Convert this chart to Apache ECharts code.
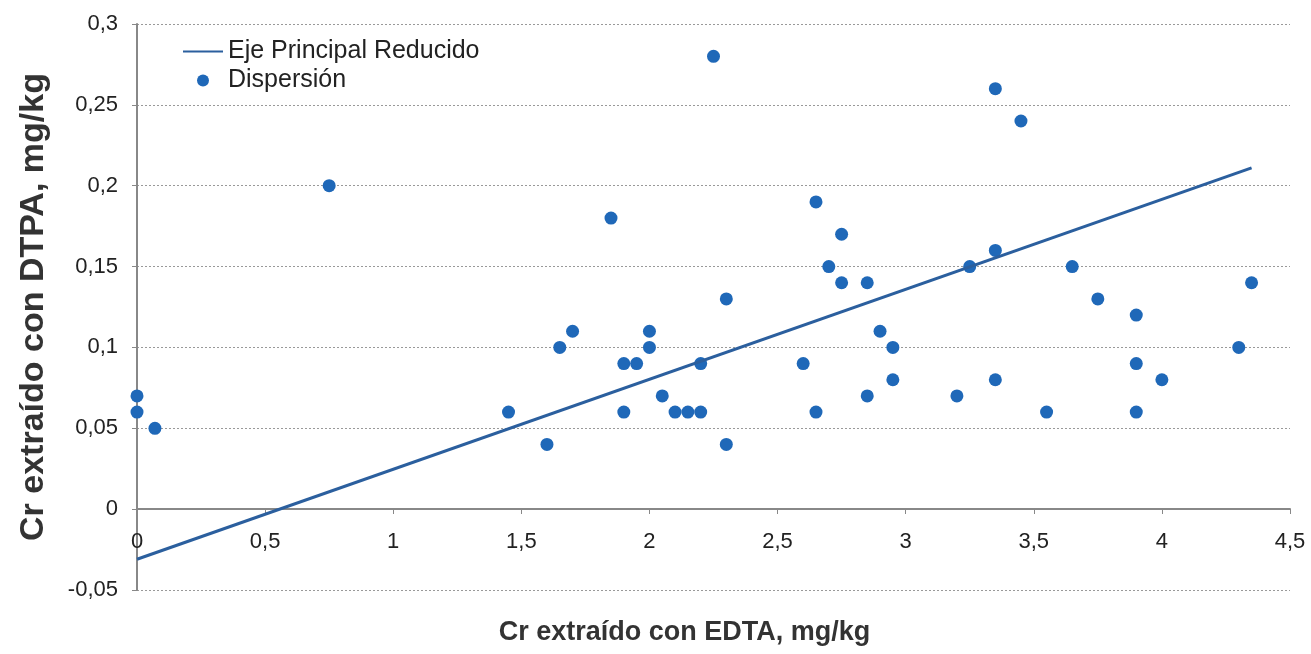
<!DOCTYPE html>
<html>
<head>
<meta charset="utf-8">
<script src="https://cdn.jsdelivr.net/npm/echarts@6/dist/echarts.min.js"></script>
<style>html,body{margin:0;padding:0;background:#fff;}#c{width:1311px;height:654px;}</style>
</head>
<body>
<div id="c"></div>
<script>
// Dispersión: [Cr EDTA, Cr DTPA] (mg/kg)
const edta = [0, 0, 0.07, 0.75, 1.45, 1.6, 1.65, 1.7, 1.85, 1.9, 1.95, 1.9, 2.0, 2.0, 2.05, 2.1, 2.15, 2.2, 2.2, 2.25, 2.3, 2.3, 2.6, 2.65, 2.65, 2.7, 2.75, 2.75, 2.85, 2.85, 2.9, 2.95, 2.95, 3.2, 3.25, 3.35, 3.35, 3.35, 3.45, 3.55, 3.65, 3.75, 3.9, 3.9, 3.9, 4.0, 4.3, 4.35];
const dtpa = [0.07, 0.06, 0.05, 0.2, 0.06, 0.04, 0.1, 0.11, 0.18, 0.09, 0.09, 0.06, 0.11, 0.1, 0.07, 0.06, 0.06, 0.06, 0.09, 0.28, 0.13, 0.04, 0.09, 0.19, 0.06, 0.15, 0.17, 0.14, 0.14, 0.07, 0.11, 0.1, 0.08, 0.07, 0.15, 0.26, 0.16, 0.08, 0.24, 0.06, 0.15, 0.13, 0.12, 0.09, 0.06, 0.08, 0.1, 0.14];
// Eje Principal Reducido (end points)
const ejeX = [0, 4.35];
const ejeY = [-0.031, 0.211];
const xTicks = {min: 0, max: 4.5, interval: 0.5};
const yTicks = {min: -0.05, max: 0.3, interval: 0.05};

const fmt = v => String(Math.round(v * 100) / 100).replace('.', ',');
const chart = echarts.init(document.getElementById('c'));
chart.setOption({
  animation: false,
  backgroundColor: '#fff',
  textStyle: {fontFamily: 'Liberation Sans, Arial, sans-serif'},
  grid: {left: 137, right: 21, top: 24, bottom: 64, containLabel: false, outerBoundsMode: 'none'},
  legend: {
    orient: 'vertical', left: 177, top: 34,
    itemWidth: 40, itemHeight: 12, itemGap: 4,
    textStyle: {fontSize: 25, color: '#222', fontFamily: 'Liberation Sans, Arial, sans-serif'},
    data: [{name: 'Eje Principal Reducido', itemStyle: {opacity: 0}}, 'Dispersión']
  },
  xAxis: {
    type: 'value', min: xTicks.min, max: xTicks.max, interval: xTicks.interval,
    position: 'bottom', offset: -81,
    name: 'Cr extraído con EDTA, mg/kg', nameLocation: 'middle', nameGap: 110,
    nameTextStyle: {fontSize: 27, fontWeight: 'bold', color: '#333', padding: [0, 58, 0, 0]},
    axisLine: {onZero: false, lineStyle: {color: '#888', width: 2}},
    axisTick: {show: true, length: 5, lineStyle: {color: '#888'}},
    axisLabel: {fontSize: 22, color: '#222', margin: 22, formatter: fmt},
    splitLine: {show: false}
  },
  yAxis: {
    type: 'value', min: yTicks.min, max: yTicks.max, interval: yTicks.interval,
    name: 'Cr extraído con DTPA, mg/kg', nameLocation: 'middle', nameGap: 86,
    nameTextStyle: {fontSize: 34, fontWeight: 'bold', color: '#333'},
    axisLine: {show: true, lineStyle: {color: '#888', width: 2}},
    axisTick: {show: true, length: 5, lineStyle: {color: '#888'}},
    axisLabel: {fontSize: 22, color: '#222', margin: 19, formatter: fmt},
    splitLine: {show: true, lineStyle: {color: '#999', type: [2, 2], width: 1}}
  },
  series: [
    {
      name: 'Eje Principal Reducido', type: 'line', symbol: 'none',
      data: ejeX.map((x, i) => [x, ejeY[i]]),
      lineStyle: {color: '#2b5f9e', width: 3}, itemStyle: {color: '#2b5f9e'}
    },
    {
      name: 'Dispersión', type: 'scatter', symbolSize: 13,
      data: edta.map((x, i) => [x, dtpa[i]]),
      itemStyle: {color: '#1f68b8', opacity: 1}
    }
  ]
});
</script>
</body>
</html>
